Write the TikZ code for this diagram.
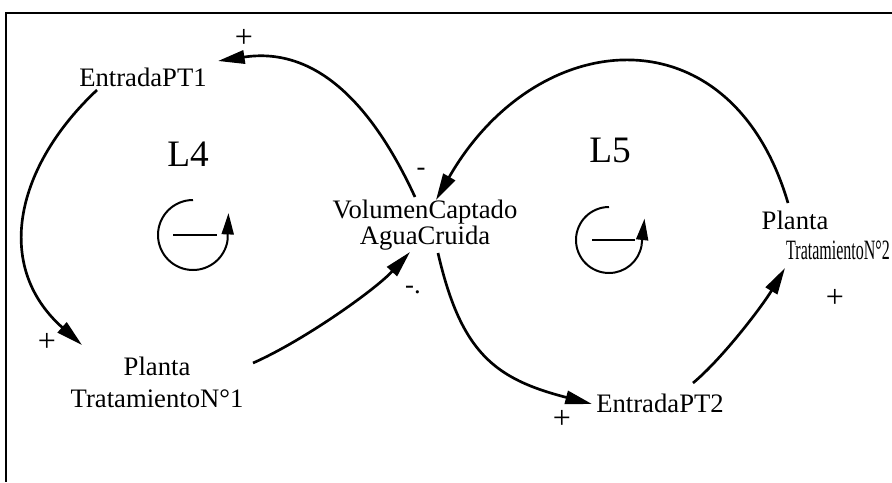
\documentclass[tikz,border=0pt]{standalone}
\usepackage{fontspec}
\setmainfont{Liberation Serif}
\usetikzlibrary{arrows.meta,calc}
\begin{document}
\begin{tikzpicture}[x=0.75pt,y=-0.75pt,
  lbl/.style={font=\fontsize{20}{15}\selectfont, inner sep=0pt, align=center},
  lbltwo/.style={font=\fontsize{20}{24}\selectfont, inner sep=0pt, align=center},
  looplbl/.style={font=\fontsize{28}{28}\selectfont, inner sep=0pt},
  sgn/.style={font=\fontsize{24}{24}\selectfont, inner sep=0pt},
  msgn/.style={font=\fontsize{20}{20}\selectfont, inner sep=0pt},
  link/.style={line width=2pt, -{Triangle[length=20pt,width=10pt]}},
  loopsym/.style={line width=1.5pt},
  looparrow/.style={line width=1.5pt, -{Triangle[length=16pt,width=9pt]}},
  frame/.style={line width=2.2pt}]
\useasboundingbox (0,0) rectangle (892,482);
\fill[white] (0,0) rectangle (892,482);
% frame (top and left edges)
\draw[frame] (892,13) -- (6,13) -- (6,482);

% variables
\node[lbl] (ent1) at (143,77) {EntradaPT1};
\node[lbl] (vol) at (425,225) {VolumenCaptado\\AguaCruida};
\node[lbltwo] (pt1) at (157,382) {Planta\\TratamientoN°1};
\node[lbl] (ent2) at (660,403) {EntradaPT2};
\node[lbl] (pt2) at (795,220) {Planta};
\node[lbl] (pt2b) at (838,250) {\scalebox{0.6}[1.05]{TratamientoN°2}};

% loop labels
\node[looplbl] (l4) at (188,154) {L4};
\node[looplbl] (l5) at (610,150) {L5};

% loop symbols
\draw[loopsym] (193,235) ++(270:35) arc[start angle=270, end angle=10, radius=35] coordinate (l4end);
\draw[looparrow] (l4end) -- ++(1,-28);
\draw[loopsym] (173,235) -- (217,235);
\draw[loopsym] (609,240) ++(270:33) arc[start angle=270, end angle=10, radius=33] coordinate (l5end);
\draw[looparrow] (l5end) -- ++(3,-27);
\draw[loopsym] (592,240) -- (635,240);

% links
\draw[link] ($(vol)+(-10,-28)$) .. controls +(-42,-91) and +(99,-15) .. ($(ent1)+(75,-16)$);
\draw[link] ($(ent1)+(-46,13)$) .. controls +(-80,75) and +(-90,-80) .. ($(pt1)+(-75,-37)$);
\draw[link] ($(pt1)+(96,-19)$) .. controls +(50,-22) and +(-35,38) .. ($(vol)+(-15,27)$);
\draw[link] ($(vol)+(13,28)$) .. controls +(23,100) and +(-97,-25) .. ($(ent2)+(-68,1)$);
\draw[link] ($(ent2)+(33,-20)$) .. controls +(30,-25) and +(-22,37) .. ($(pt2b)+(-53,18)$);
\draw[link] ($(pt2)+(-7,-17)$) .. controls +(-57,-194) and +(101,-176) .. ($(vol)+(11,-25)$);

% polarity signs
\node[sgn] (p1) at (244,38) {+};
\node[sgn] (p2) at (47,342) {+};
\node[sgn] (p3) at (562,419) {+};
\node[sgn] (p4) at (835,298) {+};
\node[msgn] (m1) at (421,172) {-};
\node[msgn] (m2) at (413,290) {-.};
\end{tikzpicture}
\end{document}
